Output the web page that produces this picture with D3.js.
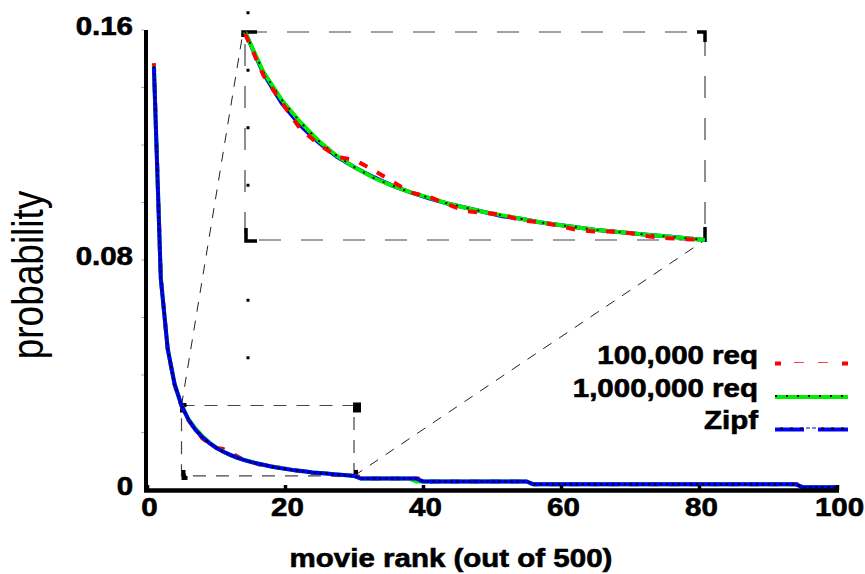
<!DOCTYPE html>
<html>
<head>
<meta charset="utf-8">
<script src="https://cdn.jsdelivr.net/npm/d3@7"></script>
<style>
  html, body { margin: 0; padding: 0; background: #fff; }
  svg { display: block; font-family: "Liberation Sans", Arial, Helvetica, sans-serif; }
  .heavy { stroke: #000; stroke-width: 0.6px; paint-order: stroke; }
</style>
</head>
<body>
<svg id="chart" width="865" height="574"></svg>
<script>
// ---- data: request probability by movie rank (ranks 1..100 of 500) ----
const ranks = d3.range(1, 101);

const req100k = [
  0.1485, 0.0740, 0.0490, 0.0366, 0.0292, 0.0243, 0.0211, 0.0180, 0.0162, 0.0147,
  0.0143, 0.0131, 0.0118, 0.0105, 0.0100, 0.0091, 0.0083, 0.0081, 0.0079, 0.0072,
  0.0070, 0.0066, 0.0061, 0.0059, 0.0059, 0.0057, 0.0053, 0.0051, 0.0050, 0.0049,
  0.0046, 0.004, 0.004, 0.004, 0.004, 0.004, 0.004, 0.004, 0.004, 0.004,
  0.003, 0.003, 0.003, 0.003, 0.003, 0.003, 0.003, 0.003, 0.003, 0.003,
  0.003, 0.003, 0.003, 0.003, 0.003, 0.002, 0.002, 0.002, 0.002, 0.002,
  0.002, 0.002, 0.002, 0.002, 0.002, 0.002, 0.002, 0.002, 0.002, 0.002,
  0.002, 0.002, 0.002, 0.002, 0.002, 0.002, 0.002, 0.002, 0.002, 0.002,
  0.002, 0.002, 0.002, 0.002, 0.002, 0.002, 0.002, 0.002, 0.002, 0.002,
  0.002, 0.002, 0.002, 0.002, 0.002, 0.001, 0.001, 0.001, 0.001, 0.001
];

const req1m = [
  0.1475, 0.0738, 0.0490, 0.0369, 0.0294, 0.0247, 0.0214, 0.0188, 0.0166, 0.0148,
  0.0134, 0.0122, 0.0113, 0.0105, 0.0099, 0.0092, 0.0087, 0.0082, 0.0078, 0.0074,
  0.0070, 0.0067, 0.0064, 0.0061, 0.0059, 0.0057, 0.0055, 0.0053, 0.0051, 0.0049,
  0.004, 0.004, 0.004, 0.004, 0.004, 0.004, 0.004, 0.004, 0.003, 0.003,
  0.003, 0.003, 0.003, 0.003, 0.003, 0.003, 0.003, 0.003, 0.003, 0.003,
  0.003, 0.003, 0.003, 0.003, 0.003, 0.002, 0.002, 0.002, 0.002, 0.002,
  0.002, 0.002, 0.002, 0.002, 0.002, 0.002, 0.002, 0.002, 0.002, 0.002,
  0.002, 0.002, 0.002, 0.002, 0.002, 0.002, 0.002, 0.002, 0.002, 0.002,
  0.002, 0.002, 0.002, 0.002, 0.002, 0.002, 0.002, 0.002, 0.002, 0.002,
  0.002, 0.002, 0.002, 0.002, 0.001, 0.001, 0.001, 0.001, 0.001, 0.001
];

const zipf = [
  0.1472, 0.0736, 0.0491, 0.0368, 0.0294, 0.0245, 0.0210, 0.0184, 0.0164, 0.0147,
  0.0134, 0.0123, 0.0113, 0.0105, 0.0098, 0.0092, 0.0087, 0.0082, 0.0077, 0.0074,
  0.0070, 0.0067, 0.0064, 0.0061, 0.0059, 0.0057, 0.0055, 0.0053, 0.0051, 0.0049,
  0.004, 0.004, 0.004, 0.004, 0.004, 0.004, 0.004, 0.004, 0.004, 0.003,
  0.003, 0.003, 0.003, 0.003, 0.003, 0.003, 0.003, 0.003, 0.003, 0.003,
  0.003, 0.003, 0.003, 0.003, 0.003, 0.002, 0.002, 0.002, 0.002, 0.002,
  0.002, 0.002, 0.002, 0.002, 0.002, 0.002, 0.002, 0.002, 0.002, 0.002,
  0.002, 0.002, 0.002, 0.002, 0.002, 0.002, 0.002, 0.002, 0.002, 0.002,
  0.002, 0.002, 0.002, 0.002, 0.002, 0.002, 0.002, 0.002, 0.002, 0.002,
  0.002, 0.002, 0.002, 0.002, 0.001, 0.001, 0.001, 0.001, 0.001, 0.001
];

const seriesNames = ["100,000 req", "1,000,000 req", "Zipf"];
const xTicks = [0, 20, 40, 60, 80, 100];
const yTicks = [0, 0.08, 0.16];
const yTickLabels = ["0", "0.08", "0.16"];
const yMinorTicks = [0.02, 0.04, 0.06, 0.08, 0.10, 0.12, 0.14, 0.16];
const xLabel = "movie rank (out of 500)";
const yLabel = "probability";

// zoomed window: ranks 5..30
const zoomRanks = [5, 30];
const zoomProb = [0.0049, 0.0294];
const zoomGuideTicks = [0.166, 0.146, 0.126, 0.106, 0.066, 0.046];

// ---- layout ----
const svg = d3.select("#chart");
const stretch = 1.18;             // wide lettering used throughout
const x = d3.scaleLinear().domain([0, 100]).range([147, 837]);
const y = d3.scaleLinear().domain([0, 0.16]).range([490, 30]);
const xi = d3.scaleLinear().domain(zoomRanks).range([245, 705]);
const yi = d3.scaleLinear().domain(zoomProb).range([240, 32]);

const series = [
  { name: seriesNames[0], values: req100k, color: "#ff0000" },
  { name: seriesNames[1], values: req1m,   color: "#00ee00" },
  { name: seriesNames[2], values: zipf,    color: "#0000ff" }
];
series.forEach(s => { s.points = ranks.map((r, i) => ({ r, v: s.values[i] })); });

// ---- zoom window frames and connectors ----
const deco = svg.append("g");
const rx0 = x(zoomRanks[0]), rx1 = x(zoomRanks[1]);
const ry0 = y(zoomProb[1]), ry1 = y(zoomProb[0]);
const ix0 = xi(zoomRanks[0]), ix1 = xi(zoomRanks[1]);
const iy0 = yi(zoomProb[1]), iy1 = yi(zoomProb[0]);

deco.append("rect")
  .attr("x", rx0).attr("y", ry0).attr("width", rx1 - rx0).attr("height", ry1 - ry0)
  .attr("fill", "none").attr("stroke", "#444").attr("stroke-width", 1.2)
  .attr("stroke-dasharray", "13,10");

deco.append("rect")
  .attr("x", ix0).attr("y", iy0).attr("width", ix1 - ix0).attr("height", iy1 - iy0)
  .attr("fill", "none").attr("stroke", "#444").attr("stroke-width", 1.2)
  .attr("stroke-dasharray", "22,20");

deco.append("line")
  .attr("x1", rx0).attr("y1", ry0).attr("x2", ix0 - 2).attr("y2", iy0)
  .attr("stroke", "#222").attr("stroke-width", 1).attr("stroke-dasharray", "10,9");
deco.append("line")
  .attr("x1", rx1).attr("y1", ry1).attr("x2", ix1).attr("y2", iy1)
  .attr("stroke", "#222").attr("stroke-width", 1).attr("stroke-dasharray", "10,9");

// guide tick squares beside the zoomed panel
deco.selectAll("rect.guide").data(zoomGuideTicks).join("rect")
  .attr("class", "guide")
  .attr("x", ix0 + 1.5).attr("y", d => y(d) - 1.5)
  .attr("width", 3).attr("height", 3).attr("fill", "#000");

// corner marks of the source window
const cornerMain = [
  `M${rx0 + 0.5},${ry0 + 7}V${ry0 - 0.5}H${rx0 + 5}`,
  `M${rx0 + 2},${ry1 - 6}V${ry1 + 2}H${rx0 + 6}`,
  `M${rx1 + 1},${ry0 - 1}h4v6h-4z`,
  `M${rx1 + 2},${ry1 - 6}V${ry1 + 1}`
];
deco.selectAll("path.cm").data(cornerMain).join("path")
  .attr("class", "cm").attr("d", d => d)
  .attr("fill", "#000").attr("stroke", "#000").attr("stroke-width", 4);

// corner marks of the zoomed panel
const cornerInset = [
  `M${ix0 + 12},${iy0}H${ix0 - 2}V${iy0 + 5}`,
  `M${ix1 - 8},${iy0}H${ix1}V${iy0 + 10}`,
  `M${ix0 + 1},${iy1 - 12}V${iy1 + 1}H${ix0 + 12}`,
  `M${ix1},${iy1 - 13}V${iy1 + 2}`
];
deco.selectAll("path.ci").data(cornerInset).join("path")
  .attr("class", "ci").attr("d", d => d)
  .attr("fill", "none").attr("stroke", "#000").attr("stroke-width", 3.5);

// ---- series drawing helpers ----
function drawSeries(g, s, line, pts) {
  if (s.color === "#ff0000") {
    g.append("path").datum(pts).attr("d", line)
      .attr("fill", "none").attr("stroke", s.color).attr("stroke-width", 4)
      .attr("stroke-dasharray", "9,11");
  } else if (s.color === "#00ee00") {
    g.append("path").datum(pts).attr("d", line)
      .attr("fill", "none").attr("stroke", s.color).attr("stroke-width", 4);
    g.append("path").datum(pts).attr("d", line)
      .attr("fill", "none").attr("stroke", "#000").attr("stroke-width", 1.8)
      .attr("stroke-dasharray", "2,9");
  } else {
    g.append("path").datum(pts).attr("d", line)
      .attr("fill", "none").attr("stroke", s.color).attr("stroke-width", 4);
    g.append("path").datum(pts).attr("d", line)
      .attr("fill", "none").attr("stroke", "#000").attr("stroke-width", 2)
      .attr("stroke-dasharray", "2,4");
  }
}

// zoomed panel: ranks 5..30, blue under green under red
const insetLine = d3.line().x(d => xi(d.r)).y(d => yi(d.v));
const insetG = svg.append("g");
[series[2], series[1], series[0]].forEach(s => {
  const pts = s.points.filter(p => p.r >= zoomRanks[0] && p.r <= zoomRanks[1]);
  drawSeries(insetG, s, insetLine, pts);
});

// main plot: red under green under blue
const mainLine = d3.line().x(d => x(d.r)).y(d => y(d.v));
const mainG = svg.append("g");
series.forEach(s => drawSeries(mainG, s, mainLine, s.points));

// ---- axes ----
const xAxisG = svg.append("g").attr("transform", "translate(0,490)")
  .call(d3.axisBottom(x).tickValues(xTicks).tickSizeInner(-5).tickSizeOuter(0).tickPadding(8));
xAxisG.select(".domain").remove();
xAxisG.selectAll(".tick line").attr("stroke", "#000").attr("stroke-width", 3.5);
xAxisG.selectAll(".tick text")
  .attr("class", "heavy")
  .attr("font-size", 25).attr("font-weight", "bold").attr("fill", "#000")
  .attr("font-family", "'Liberation Sans', Arial, sans-serif")
  .attr("transform", `translate(2,0) scale(${stretch},1)`);
xAxisG.append("line").attr("x1", 144).attr("x2", 839).attr("y1", 0.5).attr("y2", 0.5)
  .attr("stroke", "#000").attr("stroke-width", 4.5);

const yAxisG = svg.append("g").attr("transform", "translate(146,0)")
  .call(d3.axisLeft(y).tickValues(yTicks).tickSize(0).tickPadding(11)
    .tickFormat((d, i) => yTickLabels[i]));
yAxisG.select(".domain").remove();
yAxisG.selectAll(".tick text")
  .attr("class", "heavy")
  .attr("font-size", 25).attr("font-weight", "bold").attr("fill", "#000")
  .attr("font-family", "'Liberation Sans', Arial, sans-serif")
  .attr("dy", "0.16em")
  .attr("transform", `scale(${stretch},1)`);
yAxisG.selectAll("line.minor").data(yMinorTicks).join("line")
  .attr("class", "minor")
  .attr("x1", -5).attr("x2", -2).attr("y1", d => y(d)).attr("y2", d => y(d))
  .attr("stroke", "#aaa").attr("stroke-width", 1);
yAxisG.append("line").attr("x1", 0).attr("x2", 0).attr("y1", 30).attr("y2", 492)
  .attr("stroke", "#000").attr("stroke-width", 4);

// ---- titles ----
svg.append("text")
  .attr("class", "heavy")
  .attr("transform", `translate(451,567) scale(${stretch},1)`)
  .attr("text-anchor", "middle").attr("font-size", 25).attr("font-weight", "bold")
  .text(xLabel);

svg.append("text")
  .attr("transform", `translate(43,275) scale(${stretch},1) rotate(-90)`)
  .attr("text-anchor", "middle").attr("font-size", 37)
  .text(yLabel);

// ---- legend ----
const legend = svg.append("g");
const lx0 = 775, lx1 = 848;
series.forEach((s, i) => {
  const by = 364 + i * 32.5;
  legend.append("text")
    .attr("class", "heavy")
    .attr("transform", `translate(758,${by}) scale(${stretch},1)`)
    .attr("text-anchor", "end").attr("font-size", 25).attr("font-weight", "bold")
    .text(s.name);
  const ly = by - 0.5 + (i === 0 ? 0 : 1);
  if (i === 0) {
    legend.append("line").attr("x1", lx0).attr("x2", lx1).attr("y1", ly).attr("y2", ly)
      .attr("stroke", s.color).attr("stroke-width", 4).attr("stroke-dasharray", "6,61,6");
    legend.append("line").attr("x1", lx0).attr("x2", lx1).attr("y1", ly - 1).attr("y2", ly - 1)
      .attr("stroke", "#ff4444").attr("stroke-width", 1.2).attr("stroke-dasharray", "0,19,10,14,10,20");
  } else if (i === 1) {
    legend.append("line").attr("x1", lx0).attr("x2", lx1).attr("y1", ly).attr("y2", ly)
      .attr("stroke", s.color).attr("stroke-width", 4);
    legend.append("line").attr("x1", lx0).attr("x2", lx1).attr("y1", ly - 1).attr("y2", ly - 1)
      .attr("stroke", "#000").attr("stroke-width", 2).attr("stroke-dasharray", "2,9");
  } else {
    legend.append("line").attr("x1", lx0).attr("x2", lx1).attr("y1", ly).attr("y2", ly)
      .attr("stroke", s.color).attr("stroke-width", 4).attr("stroke-dasharray", "29,14,30");
    legend.append("line").attr("x1", lx0).attr("x2", lx1).attr("y1", ly - 1).attr("y2", ly - 1)
      .attr("stroke", "#000").attr("stroke-width", 2).attr("stroke-dasharray", "0,5,3,7,3,7,3,18,3,7,3,7,3,7");
    legend.append("line").attr("x1", lx0).attr("x2", lx1).attr("y1", ly - 1.5).attr("y2", ly - 1.5)
      .attr("stroke", s.color).attr("stroke-width", 1).attr("stroke-dasharray", "0,31,4,2,4,32");
  }
});
</script>
</body>
</html>
